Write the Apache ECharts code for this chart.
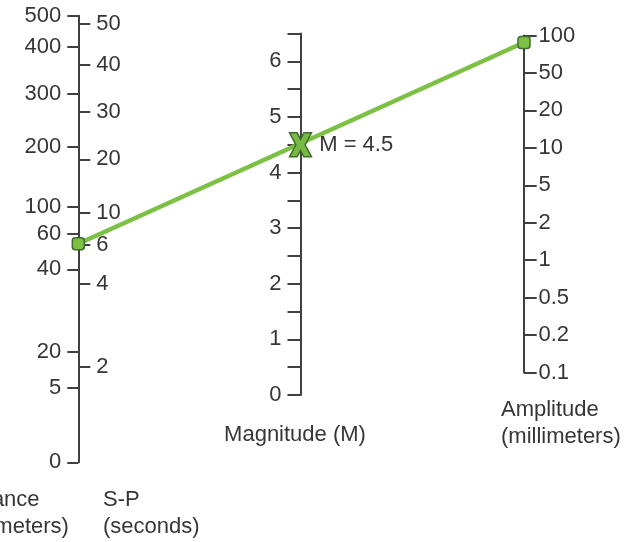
<!DOCTYPE html>
<html>
<head>
<meta charset="utf-8">
<script src="https://cdn.jsdelivr.net/npm/echarts@6/dist/echarts.min.js"></script>
<style>
html,body{margin:0;padding:0;background:#fff;}
#c{width:631px;height:542px;}
</style>
</head>
<body>
<div id="c"></div>
<script>
// ---- data (heights in magnitude-scale units) ----
const distanceLabels = ['500','400','300','200','100','60','40','20','5','0'];
const distanceHeights = [6.82, 6.26, 5.41, 4.46, 3.38, 2.90, 2.26, 0.78, 0.13, -1.21];
const spLabels = ['50','40','30','20','10','6','4','2'];
const spHeights = [6.68, 5.94, 5.10, 4.24, 3.27, 2.70, 2.00, 0.51];
const magnitudeMin = 0, magnitudeMax = 6.5, magnitudeStep = 0.5;
const amplitudeLabels = ['0.1','0.2','0.5','1','2','5','10','20','50','100'];
const scaleNames = ['S-P','Magnitude','Amplitude'];
const readingScales = ['S-P','Amplitude'];
const readingHeights = [2.72, 6.34];
const magnitudeReading = 4.5;

// ---- layout ----
const ZERO_Y = 395, PPU = 55.6;
const X_LEFT = 78.3, X_MID = 300.5, X_RIGHT = 524;
const FONT = '"Liberation Sans", Arial, sans-serif';
const FS = 22;
const TXT = '#363636', AX = '#404040';
const GREEN = '#7cc143', DARK = '#3f6b2c';

const dMin = Math.min(...distanceHeights), dMax = Math.max(...distanceHeights);
function gridFor(left, uMin, uMax, width) {
  return { left: left, width: width || 10, top: ZERO_Y - PPU * uMax, height: PPU * (uMax - uMin) };
}
function lookup(values, labels) {
  return function (v) {
    let best = 0;
    for (let i = 1; i < values.length; i++) if (Math.abs(values[i] - v) < Math.abs(values[best] - v)) best = i;
    return labels[best];
  };
}
const lbl = { fontSize: FS, color: TXT, fontFamily: FONT };
const axLine = { show: true, lineStyle: { color: AX, width: 2 } };
const font = FS + 'px ' + FONT;

const chart = echarts.init(document.getElementById('c'));
chart.setOption({
  animation: false,
  backgroundColor: '#fff',
  grid: [
    gridFor(X_LEFT, dMin, dMax),
    gridFor(X_MID, magnitudeMin, magnitudeMax),
    { left: X_RIGHT, width: 10, top: 35.5, height: 337 },
    gridFor(X_LEFT, dMin, dMax, X_RIGHT - X_LEFT)
  ],
  xAxis: [
    { gridIndex: 0, type: 'value', show: false, min: 0, max: 1 },
    { gridIndex: 1, type: 'value', show: false, min: 0, max: 1 },
    { gridIndex: 2, type: 'value', show: false, min: 0, max: 1 },
    { gridIndex: 3, type: 'category', show: false, data: scaleNames, boundaryGap: false }
  ],
  yAxis: [
    { // distance
      gridIndex: 0, type: 'value', position: 'left', min: dMin, max: dMax,
      axisLine: axLine, splitLine: { show: false },
      axisTick: { show: true, customValues: distanceHeights, length: 11, lineStyle: { color: AX, width: 2 } },
      axisLabel: Object.assign({ customValues: distanceHeights, formatter: lookup(distanceHeights, distanceLabels), margin: 17 }, lbl)
    },
    { // S-P
      gridIndex: 0, type: 'value', position: 'left', min: dMin, max: dMax,
      axisLine: { show: false }, splitLine: { show: false },
      axisTick: { show: true, inside: true, customValues: spHeights, length: 12, lineStyle: { color: AX, width: 2 } },
      axisLabel: Object.assign({ inside: true, customValues: spHeights, formatter: lookup(spHeights, spLabels), margin: 18 }, lbl)
    },
    { // magnitude
      gridIndex: 1, type: 'value', position: 'left', min: magnitudeMin, max: magnitudeMax, interval: magnitudeStep,
      axisLine: axLine, splitLine: { show: false },
      axisTick: { show: true, length: 13, lineStyle: { color: AX, width: 2 } },
      axisLabel: Object.assign({ margin: 19, showMaxLabel: true, showMinLabel: true,
        formatter: function (v) { return Number.isInteger(v) ? String(v) : ''; } }, lbl)
    },
    { // amplitude
      gridIndex: 2, type: 'category', position: 'left', data: amplitudeLabels, boundaryGap: false,
      axisLine: axLine, splitLine: { show: false },
      axisTick: { show: true, inside: true, alignWithLabel: true, interval: 0, length: 12.7, lineStyle: { color: AX, width: 2 } },
      axisLabel: Object.assign({ inside: true, interval: 0, margin: 14.5 }, lbl)
    },
    { gridIndex: 3, type: 'value', show: false, min: dMin, max: dMax }
  ],
  series: [
    {
      type: 'line', xAxisIndex: 3, yAxisIndex: 4, z: 5,
      data: readingScales.map((s, i) => [s, readingHeights[i]]),
      symbol: 'roundRect', symbolSize: 12, showAllSymbol: true,
      lineStyle: { color: GREEN, width: 4.5 },
      itemStyle: { color: GREEN, borderColor: DARK, borderWidth: 1.5 },
      clip: false
    },
    {
      type: 'scatter', xAxisIndex: 1, yAxisIndex: 2, z: 6,
      data: [[0, magnitudeReading]],
      symbol: 'path://M0,0 L35,0 L50,27 L65,0 L100,0 L71,50 L100,100 L65,100 L50,73 L35,100 L0,100 L29,50 Z',
      symbolSize: [22, 24],
      itemStyle: { color: '#78b845', borderColor: DARK, borderWidth: 1.5, opacity: 1 },
      label: { show: true, position: 'right', distance: 7, formatter: 'M = ' + magnitudeReading,
        fontSize: FS, color: TXT, fontFamily: FONT },
      clip: false
    }
  ],
  graphic: [
    { type: 'text', style: { text: 'Distance\n(kilometers)', x: -46, y: 513, textAlign: 'left', textVerticalAlign: 'middle', font: font, fill: TXT, lineHeight: 27 } },
    { type: 'text', style: { text: 'S-P\n(seconds)', x: 103, y: 513, textAlign: 'left', textVerticalAlign: 'middle', font: font, fill: TXT, lineHeight: 27 } },
    { type: 'text', style: { text: 'Magnitude (M)', x: 295, y: 435, textAlign: 'center', textVerticalAlign: 'middle', font: font, fill: TXT } },
    { type: 'text', style: { text: 'Amplitude\n(millimeters)', x: 501, y: 423.5, textAlign: 'left', textVerticalAlign: 'middle', font: font, fill: TXT, lineHeight: 27 } }
  ]
});
</script>
</body>
</html>
